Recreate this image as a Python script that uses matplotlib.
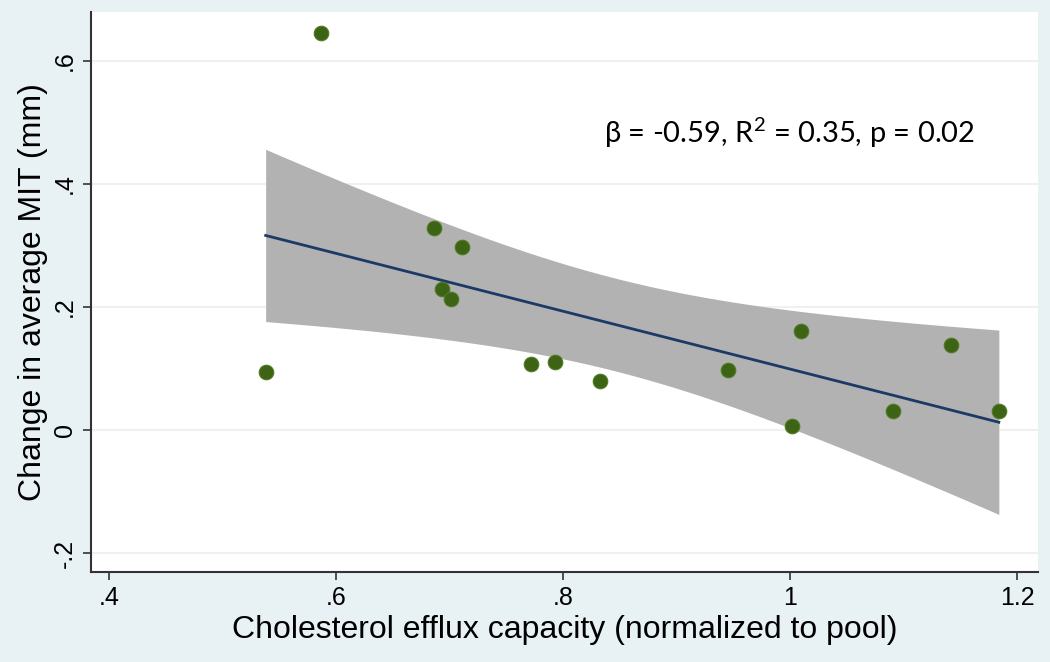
"""
    Efflux capacity vs change in MIT, with linear fit and 95% CI
"""

import numpy as np
from matplotlib import pyplot as plt

# data
efflux = [0.538, 0.587, 0.686, 0.711, 0.693, 0.701, 0.772, 0.793, 0.833,
          0.945, 1.010, 1.002, 1.091, 1.142, 1.184]
mit_change = [0.095, 0.646, 0.329, 0.298, 0.229, 0.213, 0.107, 0.111, 0.079,
              0.098, 0.161, 0.007, 0.031, 0.139, 0.031]

x_ticks = [0.4, 0.6, 0.8, 1.0, 1.2]
x_labels = [".4", ".6", ".8", "1", "1.2"]
y_ticks = [-0.2, 0.0, 0.2, 0.4, 0.6]
y_labels = ["-.2", "0", ".2", ".4", ".6"]

stats_text = "\u03b2 = -0.59, $\\mathrm{R}^2$ = 0.35, p = 0.02"

plt.rcParams["mathtext.fontset"] = "custom"
plt.rcParams["mathtext.rm"] = "Lato"
fonte = "Liberation Sans"

# ajuste linear e intervalo de confianca (media prevista)
x = np.array(efflux)
y = np.array(mit_change)
n = len(x)
b, a = np.polyfit(x, y, 1)
resid = y - (a + b * x)
s = np.sqrt(np.sum(resid ** 2) / (n - 2))
sxx = np.sum((x - x.mean()) ** 2)
t_crit = 2.1604  # t(0.975, 13)
xs = np.linspace(x.min(), x.max(), 100)
ys = a + b * xs
half = t_crit * s * np.sqrt(1 / n + (xs - x.mean()) ** 2 / sxx)

fig = plt.figure(figsize=(10.5, 6.62), dpi=100)
fig.patch.set_facecolor("#e8f1f4")
ax = fig.add_axes([91 / 1050, 90 / 662, 947 / 1050, 560 / 662])
ax.set_facecolor("white")

ax.fill_between(xs, ys - half, ys + half, color="#b2b2b2", linewidth=0, zorder=2)
ax.plot(xs, ys, color="#1c3a66", linewidth=2, zorder=3)
ax.scatter(x, y, s=110, c="#3d6314", edgecolors="#4f7a22", linewidths=0.8, zorder=4)

ax.set_xlim(0.3841, 1.2185)
ax.set_ylim(-0.2309, 0.6797)

ax.set_xticks(x_ticks)
ax.set_xticklabels(x_labels, fontsize=18, family=fonte)
ax.set_yticks(y_ticks)
ax.set_yticklabels(y_labels, fontsize=18, family=fonte, rotation=90, va="center")
ax.tick_params(direction="out", length=6, width=1.2, color="#333333", pad=4)

ax.grid(axis="y", color="#eeeeee", linewidth=1.2, zorder=0)
ax.set_axisbelow(True)

for lado in ["top", "right"]:
    ax.spines[lado].set_visible(False)
for lado in ["left", "bottom"]:
    ax.spines[lado].set_color("#333333")
    ax.spines[lado].set_linewidth(1.5)

ax.set_xlabel("Cholesterol efflux capacity (normalized to pool)", fontsize=23,
              family=fonte, labelpad=4)
ax.set_ylabel("Change in average MIT (mm)", fontsize=23, family=fonte, labelpad=4)

ax.text(1.0, 0.483, stats_text, fontsize=21, family="Lato", ha="center", va="center",
        zorder=5)

plt.savefig("out.png", dpi=100, facecolor=fig.get_facecolor())
